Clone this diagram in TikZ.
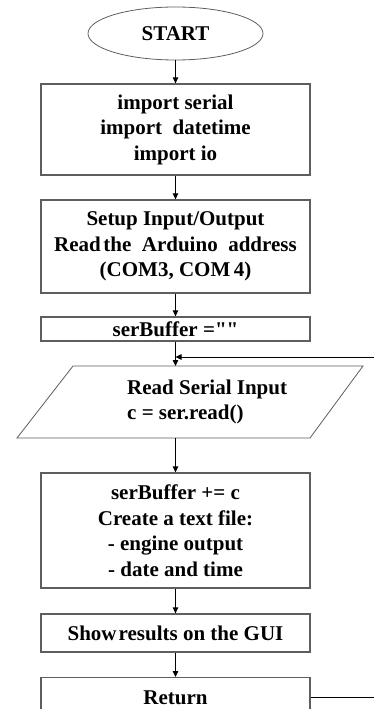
\documentclass[tikz,border=0pt]{standalone}
\usepackage{fontspec}
\setmainfont{Liberation Serif}
% same face without the TeX quote mapping, for straight double quotes
\newfontfamily\rawserif{Liberation Serif}[Ligatures=ResetAll]
\usetikzlibrary{arrows.meta,shapes.geometric}
\definecolor{boxgray}{HTML}{5E5E5E}

\begin{document}
\begin{tikzpicture}[x=1pt,y=-1pt,
  every node/.style={font=\bfseries\fontsize{21}{25.5}\selectfont, inner sep=0pt},
  procbox/.style={draw=boxgray, line width=1.3pt, minimum width=269pt, align=center},
  flow/.style={draw=black, line width=0.8pt, -{Triangle[length=6pt,width=5.5pt]}},
  plain/.style={draw=black, line width=0.8pt},
]
\useasboundingbox (0,0) rectangle (374,709);
\clip (0,0) rectangle (374,709);

% terminal
\node[ellipse, draw=boxgray, line width=0.8pt, minimum width=175pt, minimum height=53pt]
  (start) at (175.5,33.5) {START};

% process boxes
\node[procbox, minimum height=91pt] (imp) at (175.5,129.5)
  {import serial\\import\ \ datetime\\import io};
\node[procbox, minimum height=93pt] (setup) at (175.5,246.5)
  {Setup Input/Output\\Read\kern0.12em the\ \ Arduino\ \ address\\(COM3, COM\,4)};
\node[procbox, minimum height=24pt] (sb) at (175.5,329) {serBuffer ={\rawserif\bfseries ""}};

% input parallelogram
\coordinate (ptl) at (73,366);
\coordinate (ptr) at (363,366);
\coordinate (pbr) at (310,438);
\coordinate (pbl) at (17,438);
\draw[boxgray, line width=0.8pt] (ptl) -- (ptr) -- (pbr) -- (pbl) -- cycle;
\coordinate (ptop) at (175.5,366);
\coordinate (pbot) at (175.5,438);
\node[align=left, anchor=west] (rd) at (127,402) {Read Serial Input\\c = ser.read()};

\node[procbox, minimum height=115pt] (buf) at (175.5,530.5)
  {serBuffer += c\\Create a text file:\\- engine output\\- date and time};
\node[procbox, minimum height=38pt] (gui) at (175.5,633) {Show\kern0.1em results on the GUI};
\node[procbox, anchor=north, text height=27pt, text depth=33pt] (ret) at (175.5,677) {Return};

% connectors
\draw[flow] (start) -- (imp);
\draw[flow] (imp) -- (setup);
\draw[flow] (setup) -- (sb);
\draw[flow] (sb) -- (ptop);
\draw[flow] (pbot) -- (buf);
\draw[flow] (buf) -- (gui);
\draw[flow] (gui) -- (ret);

% loop back
\coordinate (loopin) at (374,357);
\draw[flow] (loopin) -- (loopin -| sb.south);
\coordinate (retend) at (374,697);
\draw[plain] (ret.east |- retend) -- (retend);
\end{tikzpicture}
\end{document}
